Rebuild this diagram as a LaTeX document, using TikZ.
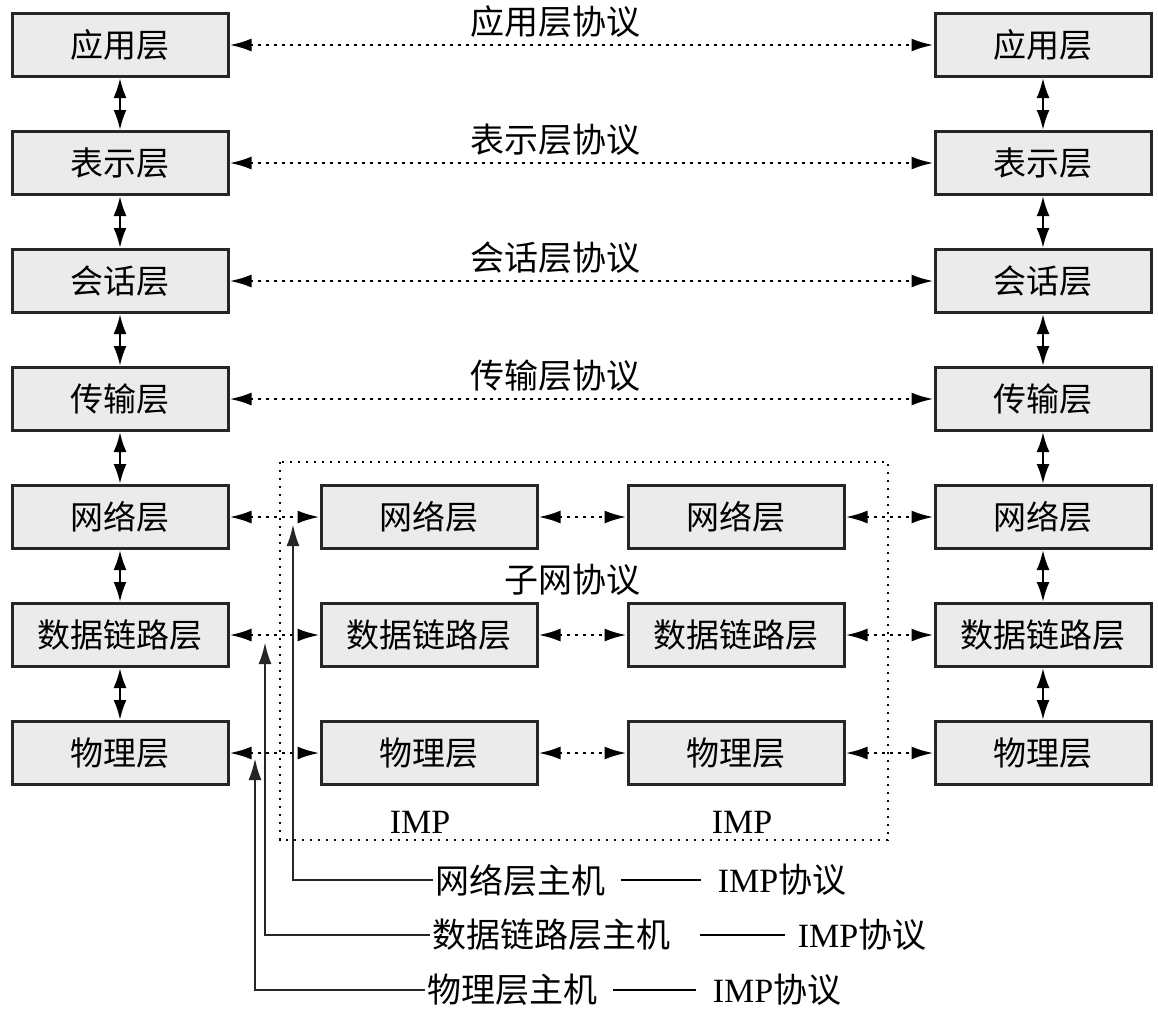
\documentclass[tikz,border=0pt]{standalone}
\usepackage{fontspec}
\setmainfont{Liberation Serif}
\newfontfamily\cjk{Noto Sans CJK SC}
\usetikzlibrary{arrows.meta}

\begin{document}
\begin{tikzpicture}[x=0.5pt, y=-0.5pt]
        \tikzstyle{layer}=[draw=black!85, line width=1.5pt, fill=black!8, minimum width=108pt, minimum height=31.5pt, inner sep=2pt, font=\cjk\fontsize{16.5}{20}\selectfont]
        \tikzstyle{proto}=[inner sep=1pt, font=\fontsize{17}{20}\selectfont]
        \tikzstyle{peer}=[line width=1.3pt, dash pattern=on 1.3pt off 2.7pt, {Latex[length=11pt,width=6.5pt]}-{Latex[length=11pt,width=6.5pt]}]
        \tikzstyle{stack}=[line width=1.2pt, {Latex[length=10pt,width=6.5pt]}-{Latex[length=10pt,width=6.5pt]}]
        \tikzstyle{host}=[line width=1.4pt, black!85, -{Latex[length=11pt,width=6.5pt]}]

        \useasboundingbox[fill=white] (0,0) rectangle (1158,1009);

        % the two end systems
        \foreach \name [count=\i] in {应用层,表示层,会话层,传输层,网络层,数据链路层,物理层} {
            \node[layer] (L_\i) at (120,{45+118*(\i-1)}) {\name};
            \node[layer] (R_\i) at (1043,{45+118*(\i-1)}) {\name};
        }
        \foreach \i in {1,...,6} {
            \pgfmathtruncatemacro\j{\i+1}
            \draw[stack] (L_\i) -- (L_\j);
            \draw[stack] (R_\i) -- (R_\j);
        }

        % peer protocols
        \foreach \name [count=\i] in {应用层协议,表示层协议,会话层协议,传输层协议} {
            \node[proto] (P_\i) at (555,{22+118*(\i-1)}) {\cjk\name};
            \draw[peer] (L_\i) -- (R_\i);
        }

        % the subnet
        \draw[line width=1.2pt, dash pattern=on 1.2pt off 2.8pt] (280,462) rectangle (888,840);
        \foreach \name [count=\k] in {网络层,数据链路层,物理层} {
            \pgfmathtruncatemacro\i{\k+4}
            \node[layer] (M_\k) at (429,{517+118*(\k-1)}) {\name};
            \node[layer] (N_\k) at (736,{517+118*(\k-1)}) {\name};
            \draw[peer] (L_\i) -- (M_\k);
            \draw[peer] (M_\k) -- (N_\k);
            \draw[peer] (N_\k) -- (R_\i);
        }
        \node[proto] (S) at (572,580) {\cjk 子网协议};
        \node[proto] (IMP_1) at (420,822) {IMP};
        \node[proto] (IMP_2) at (742,822) {IMP};

        % hosts
        \node[proto] (H_1) at (520,880) {\cjk 网络层主机};
        \node[proto] (H_2) at (551,935) {\cjk 数据链路层主机};
        \node[proto] (H_3) at (512,990) {\cjk 物理层主机};
        \node[proto] (Q_1) at (782,880) {IMP\cjk 协议};
        \node[proto] (Q_2) at (862,935) {IMP\cjk 协议};
        \node[proto] (Q_3) at (777,990) {IMP\cjk 协议};
        \coordinate (T_1) at (293,524);
        \coordinate (T_2) at (265,642);
        \coordinate (T_3) at (255,758);
        \draw[host] (H_1.west) -| (T_1);
        \draw[host] (H_2.west) -| (T_2);
        \draw[host] (H_3.west) -| (T_3);
        \draw[line width=1.2pt, shorten <=7pt, shorten >=7pt] (H_1) -- (Q_1);
        \draw[line width=1.2pt, shorten <=14pt, shorten >=5pt] (H_2) -- (Q_2);
        \draw[line width=1.2pt, shorten <=7pt, shorten >=7pt] (H_3) -- (Q_3);
\end{tikzpicture}
\end{document}
